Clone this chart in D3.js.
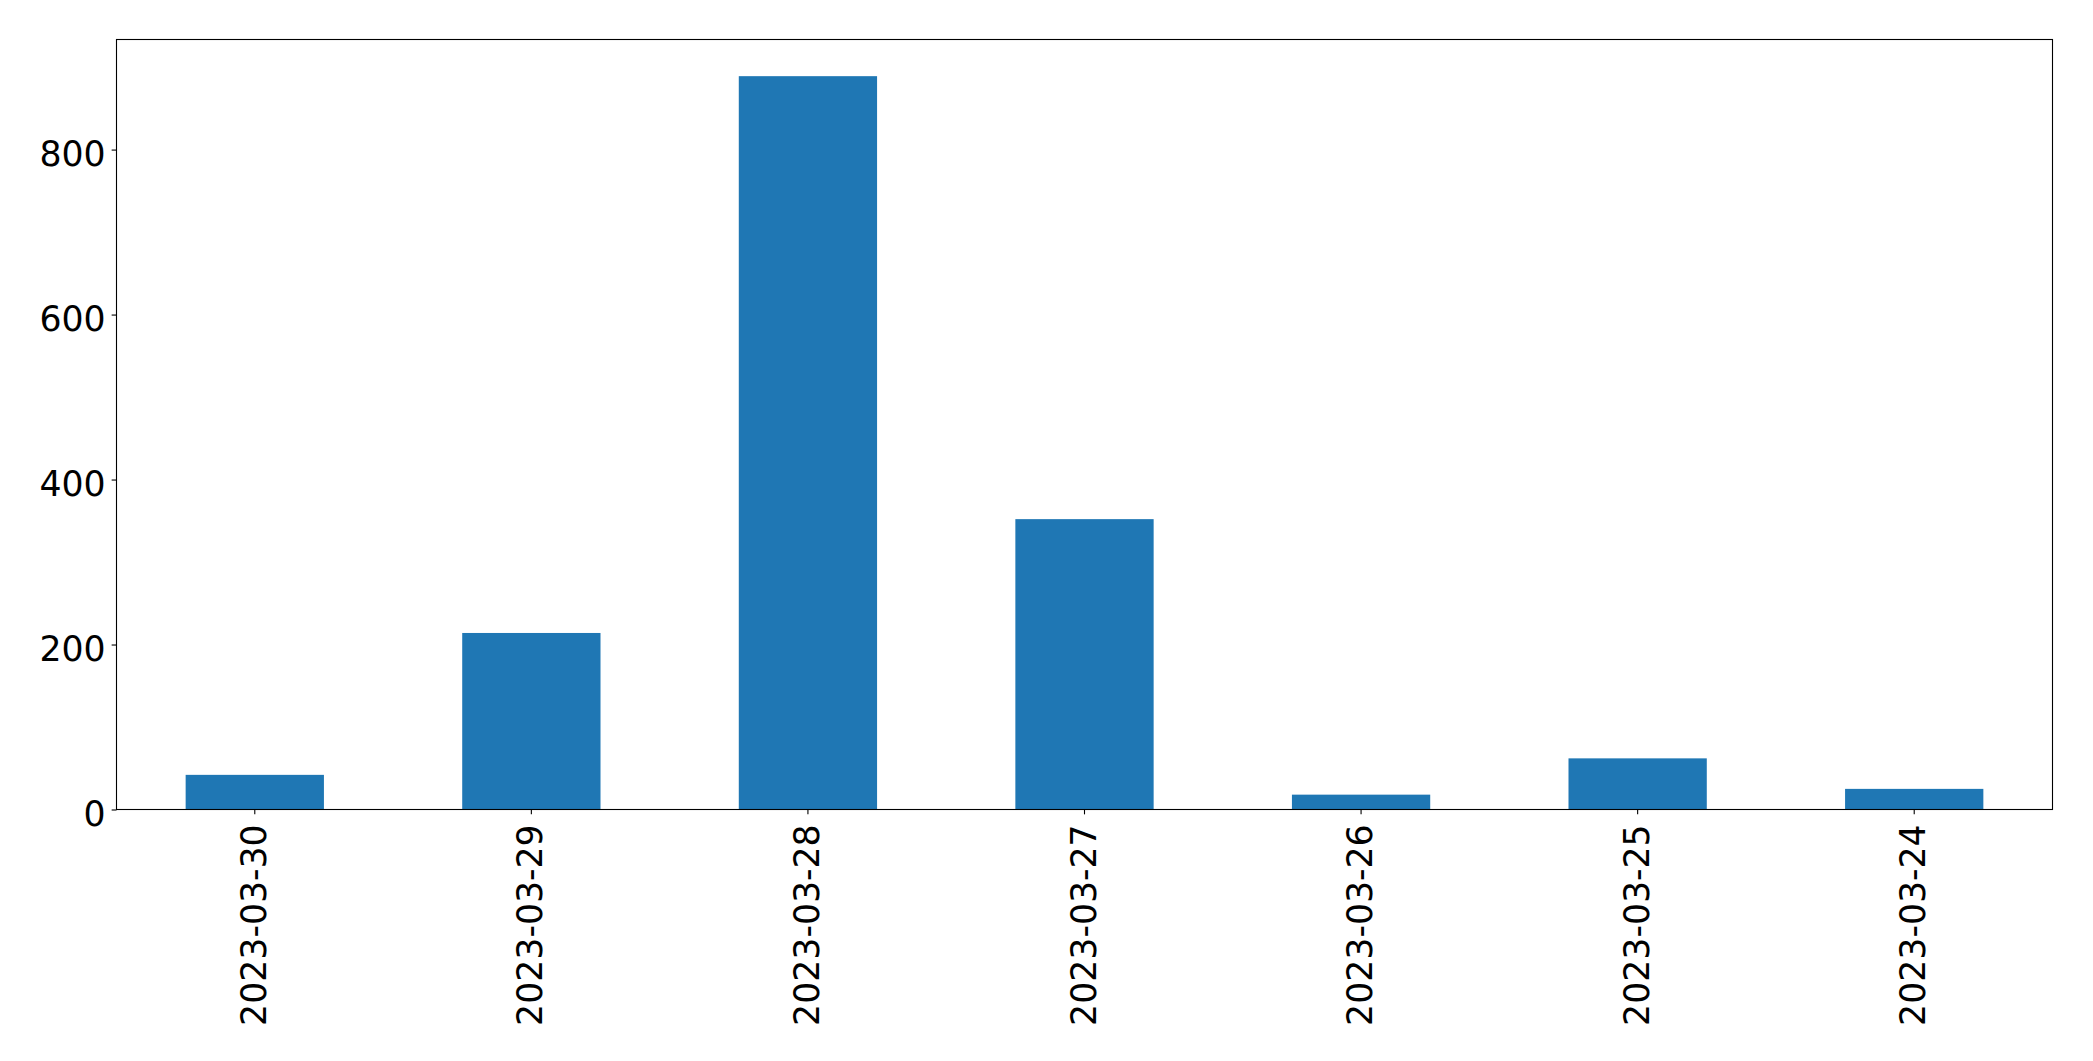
<!DOCTYPE html>
<html>
<head>
<meta charset="utf-8">
<script src="https://cdn.jsdelivr.net/npm/d3@7"></script>
<style>
  html, body { margin: 0; padding: 0; background: #fff; }
  svg { display: block; }
  text { font-family: "DejaVu Sans", sans-serif; fill: #000; }
</style>
</head>
<body>
<svg id="chart" width="2093" height="1061"></svg>
<script>
const categories = ["2023-03-30", "2023-03-29", "2023-03-28", "2023-03-27", "2023-03-26", "2023-03-25", "2023-03-24"];
const values = [42, 214, 889, 352, 18, 62, 25];
const yTicks = [0, 200, 400, 600, 800];

const W = 2093, H = 1061;
const margin = { left: 116.5, right: W - 2052.5, top: 39.5, bottom: H - 809.5 };
const innerW = W - margin.left - margin.right;
const innerH = H - margin.top - margin.bottom;

const svg = d3.select("#chart");
const g = svg.append("g").attr("transform", `translate(${margin.left},${margin.top})`);

const x = d3.scaleBand().domain(categories).range([0, innerW]).paddingInner(0.5).paddingOuter(0.25);
const y = d3.scaleLinear().domain([0, d3.max(values) * 1.05]).range([innerH, 0]);

g.selectAll("rect.bar")
  .data(categories.map((c, i) => ({ c, v: values[i] })))
  .enter().append("rect")
  .attr("class", "bar")
  .attr("x", d => x(d.c))
  .attr("width", x.bandwidth())
  .attr("y", d => y(d.v))
  .attr("height", d => y(0) - y(d.v))
  .attr("fill", "#1f77b4");

const fontSize = 34.7;
const tickLen = 4.86;

// y axis
const yAxis = d3.axisLeft(y).tickValues(yTicks).tickSize(tickLen).tickPadding(6).tickFormat(d3.format("d"));
const yg = g.append("g").call(yAxis);
yg.select(".domain").remove();
yg.selectAll("line").attr("stroke", "#000").attr("stroke-width", 1.1);
yg.selectAll("text").attr("font-size", fontSize).attr("font-family", "DejaVu Sans").attr("fill", "#000").attr("dy", "0.45em");

// x axis
const xAxis = d3.axisBottom(x).tickSize(tickLen).tickPadding(0);
const xg = g.append("g").attr("transform", `translate(0,${innerH})`).call(xAxis);
xg.select(".domain").remove();
xg.selectAll("line").attr("stroke", "#000").attr("stroke-width", 1.1);
xg.selectAll("text")
  .attr("font-size", fontSize)
  .attr("font-family", "DejaVu Sans")
  .attr("fill", "#000")
  .attr("text-anchor", "end")
  .attr("transform", `translate(0,14.8) rotate(-90)`)
  .attr("x", 0)
  .attr("y", 0)
  .attr("dy", "0.32em");

// frame
g.append("rect")
  .attr("x", 0).attr("y", 0)
  .attr("width", innerW).attr("height", innerH)
  .attr("fill", "none").attr("stroke", "#000").attr("stroke-width", 1.1);
</script>
</body>
</html>
